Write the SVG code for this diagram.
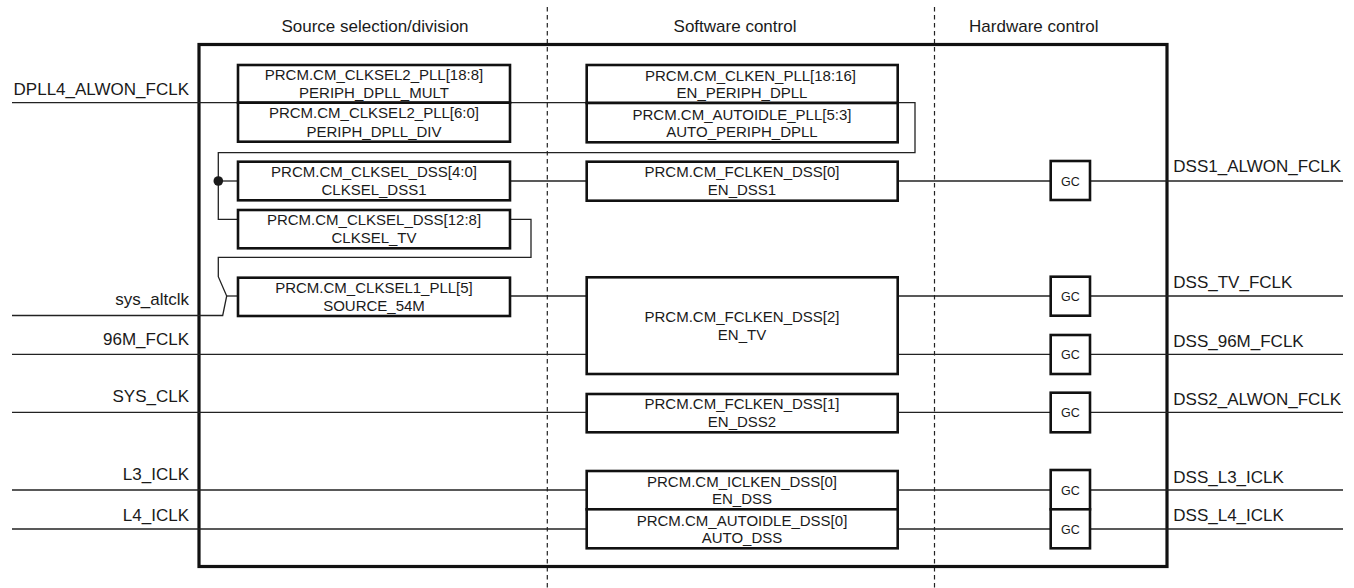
<svg xmlns="http://www.w3.org/2000/svg" width="1354" height="588" viewBox="0 0 1354 588">
<style>
text{font-family:"Liberation Sans",Arial,sans-serif;fill:#1a1a1a}
.lbl{font-size:17px}
.bt{font-size:15px;text-anchor:middle}
.gt{font-size:12.5px;text-anchor:middle}
.hd{font-size:17px;text-anchor:middle}
.box{fill:#fff;stroke:#111;stroke-width:2.6}
.ln{fill:none;stroke:#222;stroke-width:1.3}
.dash{fill:none;stroke:#222;stroke-width:1.2;stroke-dasharray:4.5 3.5}
.frame{fill:none;stroke:#111;stroke-width:3.2}
</style>
<rect width="1354" height="588" fill="#fff"/>
<g id="dividers">
<line class="dash" x1="547.3" y1="7" x2="547.3" y2="588"/>
<line class="dash" x1="934.5" y1="7" x2="934.5" y2="588"/>
</g>
<g id="headers">
<text class="hd" x="375" y="31.5">Source selection/division</text>
<text class="hd" x="735" y="31.5">Software control</text>
<text class="hd" x="1033.8" y="31.5">Hardware control</text>
</g>
<g id="frame">
<rect class="frame" x="199" y="44.5" width="968" height="522"/>
</g>
<g id="connectors">
<polyline class="ln" points="12,102.7 915,102.7 915,152.7 218.3,152.7 218.3,219.3 238,219.3"/>
<line class="ln" x1="218.3" y1="181" x2="238" y2="181"/>
<circle cx="218.3" cy="181" r="4.8" fill="#1a1a1a"/>
<polyline class="ln" points="510,219.3 531,219.3 531,257.3 218.3,257.3 218.3,276.7 226.7,296 222.7,315.5 12,315.5"/>
<line class="ln" x1="226.7" y1="296" x2="238" y2="296"/>
<line class="ln" x1="510" y1="296" x2="587" y2="296"/>
<line class="ln" x1="510" y1="181" x2="587" y2="181"/>
<line class="ln" x1="12" y1="354.3" x2="587" y2="354.3"/>
<line class="ln" x1="12" y1="412.3" x2="587" y2="412.3"/>
<line class="ln" x1="12" y1="490" x2="587" y2="490"/>
<line class="ln" x1="12" y1="529" x2="587" y2="529"/>
<line class="ln" x1="897.7" y1="181" x2="1050.7" y2="181"/>
<line class="ln" x1="897.7" y1="296" x2="1050.7" y2="296"/>
<line class="ln" x1="897.7" y1="354.3" x2="1050.7" y2="354.3"/>
<line class="ln" x1="897.7" y1="412.3" x2="1050.7" y2="412.3"/>
<line class="ln" x1="897.7" y1="490" x2="1050.7" y2="490"/>
<line class="ln" x1="897.7" y1="529" x2="1050.7" y2="529"/>
<line class="ln" x1="1090" y1="181" x2="1343" y2="181"/>
<line class="ln" x1="1090" y1="296" x2="1343" y2="296"/>
<line class="ln" x1="1090" y1="354.3" x2="1343" y2="354.3"/>
<line class="ln" x1="1090" y1="412.3" x2="1343" y2="412.3"/>
<line class="ln" x1="1090" y1="490" x2="1343" y2="490"/>
<line class="ln" x1="1090" y1="529" x2="1343" y2="529"/>
</g>
<g id="inputs" text-anchor="end">
<text class="lbl" x="189" y="95" text-anchor="end">DPLL4_ALWON_FCLK</text>
<text class="lbl" x="189" y="305" text-anchor="end">sys_altclk</text>
<text class="lbl" x="189" y="345" text-anchor="end">96M_FCLK</text>
<text class="lbl" x="189" y="401.5" text-anchor="end">SYS_CLK</text>
<text class="lbl" x="189" y="479.5" text-anchor="end">L3_ICLK</text>
<text class="lbl" x="189" y="520.7" text-anchor="end">L4_ICLK</text>
</g>
<g id="outputs">
<text class="lbl" x="1173.3" y="172.3">DSS1_ALWON_FCLK</text>
<text class="lbl" x="1173.3" y="288.3">DSS_TV_FCLK</text>
<text class="lbl" x="1173.3" y="346.7">DSS_96M_FCLK</text>
<text class="lbl" x="1173.3" y="405">DSS2_ALWON_FCLK</text>
<text class="lbl" x="1173.3" y="482.7">DSS_L3_ICLK</text>
<text class="lbl" x="1173.3" y="520.7">DSS_L4_ICLK</text>
</g>
<g id="periph_dpll_mult">
<rect class="box" x="238" y="65" width="272" height="37.7"/>
<text class="bt" x="374" y="80">PRCM.CM_CLKSEL2_PLL[18:8]</text>
<text class="bt" x="374" y="98.3">PERIPH_DPLL_MULT</text>
</g>
<g id="periph_dpll_div">
<rect class="box" x="238" y="102.7" width="272" height="39"/>
<text class="bt" x="374" y="118.3">PRCM.CM_CLKSEL2_PLL[6:0]</text>
<text class="bt" x="374" y="136.7">PERIPH_DPLL_DIV</text>
</g>
<g id="clksel_dss1">
<rect class="box" x="238" y="161.7" width="272" height="38.6"/>
<text class="bt" x="374" y="176.7">PRCM.CM_CLKSEL_DSS[4:0]</text>
<text class="bt" x="374" y="195">CLKSEL_DSS1</text>
</g>
<g id="clksel_tv">
<rect class="box" x="238" y="210" width="272" height="38.3"/>
<text class="bt" x="374" y="225">PRCM.CM_CLKSEL_DSS[12:8]</text>
<text class="bt" x="374" y="243.3">CLKSEL_TV</text>
</g>
<g id="source_54m">
<rect class="box" x="238" y="277.7" width="272" height="38.3"/>
<text class="bt" x="374" y="293.3">PRCM.CM_CLKSEL1_PLL[5]</text>
<text class="bt" x="374" y="310.7">SOURCE_54M</text>
</g>
<g id="en_periph_dpll">
<rect class="box" x="586.7" y="65" width="311" height="38"/>
<text class="bt" x="750.5" y="80.7">PRCM.CM_CLKEN_PLL[18:16]</text>
<text class="bt" x="742" y="98.3">EN_PERIPH_DPLL</text>
</g>
<g id="auto_periph_dpll">
<rect class="box" x="586.7" y="103" width="311" height="39.3"/>
<text class="bt" x="742" y="120">PRCM.CM_AUTOIDLE_PLL[5:3]</text>
<text class="bt" x="742" y="136.7">AUTO_PERIPH_DPLL</text>
</g>
<g id="en_dss1">
<rect class="box" x="586.7" y="161.7" width="311" height="39"/>
<text class="bt" x="742" y="177.3">PRCM.CM_FCLKEN_DSS[0]</text>
<text class="bt" x="742" y="195">EN_DSS1</text>
</g>
<g id="en_tv">
<rect class="box" x="586.7" y="277.3" width="311" height="96.7"/>
<text class="bt" x="742" y="321.7">PRCM.CM_FCLKEN_DSS[2]</text>
<text class="bt" x="742" y="340">EN_TV</text>
</g>
<g id="en_dss2">
<rect class="box" x="586.7" y="394" width="311" height="38.3"/>
<text class="bt" x="742" y="409">PRCM.CM_FCLKEN_DSS[1]</text>
<text class="bt" x="742" y="426.7">EN_DSS2</text>
</g>
<g id="en_dss">
<rect class="box" x="586.7" y="471" width="311" height="38.3"/>
<text class="bt" x="742" y="486.7">PRCM.CM_ICLKEN_DSS[0]</text>
<text class="bt" x="742" y="504.3">EN_DSS</text>
</g>
<g id="auto_dss">
<rect class="box" x="586.7" y="509.3" width="311" height="39"/>
<text class="bt" x="742" y="525.7">PRCM.CM_AUTOIDLE_DSS[0]</text>
<text class="bt" x="742" y="543.3">AUTO_DSS</text>
</g>
<g id="gc1">
<rect class="box" x="1050.7" y="161" width="39.3" height="39"/>
<text class="gt" x="1070.3" y="185.5">GC</text>
</g>
<g id="gc2">
<rect class="box" x="1050.7" y="276.7" width="39.3" height="39"/>
<text class="gt" x="1070.3" y="300.8">GC</text>
</g>
<g id="gc3">
<rect class="box" x="1050.7" y="335" width="39.3" height="39"/>
<text class="gt" x="1070.3" y="359">GC</text>
</g>
<g id="gc4">
<rect class="box" x="1050.7" y="392.7" width="39.3" height="39.6"/>
<text class="gt" x="1070.3" y="417">GC</text>
</g>
<g id="gc5">
<rect class="box" x="1050.7" y="470" width="39.3" height="39.3"/>
<text class="gt" x="1070.3" y="494.5">GC</text>
</g>
<g id="gc6">
<rect class="box" x="1050.7" y="509.3" width="39.3" height="39"/>
<text class="gt" x="1070.3" y="533.5">GC</text>
</g>
</svg>
